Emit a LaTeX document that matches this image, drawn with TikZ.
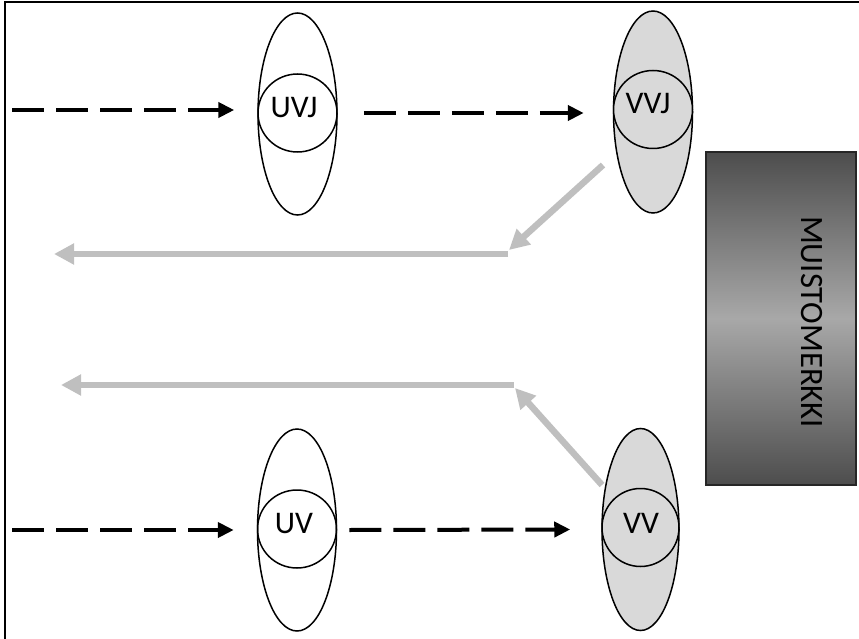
\documentclass[tikz,border=0pt]{standalone}
\usepackage{fontspec}
\setmainfont{Carlito}
\usetikzlibrary{shapes.geometric,arrows.meta}
\definecolor{lgray}{HTML}{D9D9D9}
\definecolor{agray}{HTML}{BFBFBF}
\definecolor{dk}{HTML}{4D4D4D}
\definecolor{lt}{HTML}{A8A8A8}
\begin{document}
\begin{tikzpicture}[x=1pt,y=-1pt,
 oval/.style={ellipse, draw, line width=1.5pt, inner sep=0pt, minimum width=79pt, minimum height=202pt},
 ring/.style={ellipse, draw, line width=1.5pt, inner sep=0pt, minimum width=79pt, minimum height=78pt},
 lbl/.style={font=\fontsize{31.5}{32}\selectfont, inner sep=0pt},
 dasharrow/.style={line width=4pt, dash pattern=on 32pt off 12pt, -{Triangle[length=16pt,width=15pt]}},
 grayarrow/.style={agray, line width=6.5pt, -{Triangle[length=20pt,width=20pt]}}
]
\useasboundingbox (0,0) rectangle (859,639);
% frame
\draw[line width=2pt] (4.5,639) -- (4.5,2.5) -- (859,2.5);

% ellipses
\node[oval] (uvj) at (297.5,114) {};
\node[ring] (uvjc) at (297.5,113) {};
\node[lbl] (uvjt) at (294,108) {UVJ};

\node[oval, fill=lgray] (vvj) at (653,112) {};
\node[ring, fill=lgray] (vvjc) at (653,109.5) {};
\node[lbl] (vvjt) at (648,104) {VVJ};

\node[oval] (uv) at (297,530) {};
\node[ring] (uvc) at (297,529) {};
\node[lbl] (uvt) at (294,523.5) {UV};

\node[oval, fill=lgray, minimum width=77pt] (vv) at (640.5,529.5) {};
\node[ring, fill=lgray, minimum width=77pt] (vvc) at (640.5,527.5) {};
\node[lbl] (vvt) at (641,523) {VV};

% memo box
\node[draw=black!85, line width=1.5pt, minimum width=150pt, minimum height=333pt, inner sep=0pt,
      top color=dk, bottom color=dk, middle color=lt] (memo) at (781,318.5) {};
\node[font=\fontsize{32.6}{33}\selectfont, rotate=-90, inner sep=0pt] (memot) at (812,322) {MUISTOMERKKI};

% dashed arrows
\coordinate (s1) at (12,110);
\coordinate (s2) at (12,530);
\draw[dasharrow, shorten >=23pt] (s1) -- (s1 -| uvj.west);
\draw[dasharrow] ([xshift=26pt,yshift=1pt]uvj.east) -- ([xshift=-29pt,yshift=-1pt]vvj.west);
\draw[dasharrow, shorten >=23pt] (s2) -- (uv.west);
\draw[dasharrow] ([xshift=12pt]uv.east) -- ([xshift=-31pt]vv.west);

% gray arrows
\coordinate (g1) at (603,165);
\coordinate (g2) at (509,250);
\coordinate (g3) at (508,254);
\coordinate (g4) at (54,254);
\coordinate (g5) at (602,485);
\coordinate (g6) at (515,388);
\coordinate (g7) at (514,385);
\coordinate (g8) at (61,385);
\draw[grayarrow] (g1) -- (g2);
\draw[grayarrow] (g3) -- (g4);
\draw[grayarrow] (g5) -- (g6);
\draw[grayarrow] (g7) -- (g8);
\end{tikzpicture}
\end{document}
